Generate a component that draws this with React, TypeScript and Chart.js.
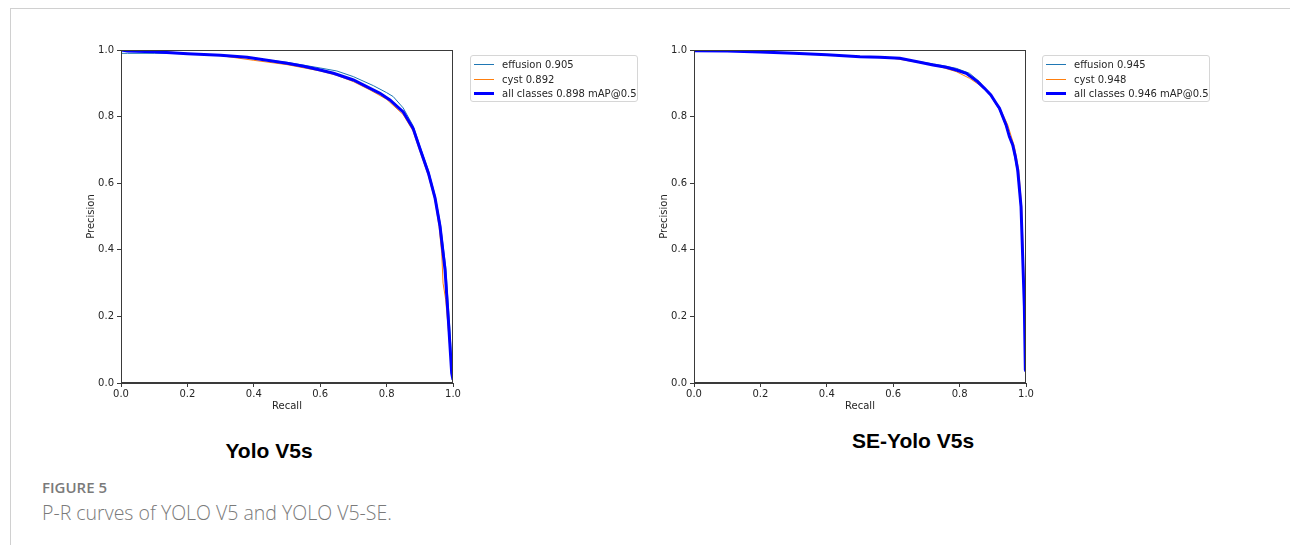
import React, { useEffect, useRef } from "react";
import { Chart, registerables } from "chart.js";

Chart.register(...registerables);

// ---------- data ----------
const tickValues = [0, 0.2, 0.4, 0.6, 0.8, 1.0];

// Yolo V5s
const yoloEffusionRecall = [0, 0.02, 0.1, 0.2, 0.3, 0.4, 0.5, 0.6, 0.65, 0.7, 0.76, 0.8, 0.82, 0.85, 0.88, 0.9, 0.926, 0.946, 0.962, 0.978, 0.99, 0.998, 1.0];
const yoloEffusionPrecision = [0.99, 0.99, 0.99, 0.989, 0.985, 0.975, 0.963, 0.946, 0.937, 0.92, 0.893, 0.872, 0.86, 0.826, 0.772, 0.712, 0.638, 0.563, 0.478, 0.35, 0.17, 0.03, 0.01];
const yoloCystRecall = [0, 0.1, 0.2, 0.3, 0.4, 0.5, 0.6, 0.65, 0.7, 0.75, 0.8, 0.85, 0.88, 0.9, 0.926, 0.946, 0.958, 0.966, 0.97, 0.978, 0.985, 0.995, 1.0];
const yoloCystPrecision = [1.0, 0.997, 0.99, 0.983, 0.969, 0.956, 0.937, 0.924, 0.905, 0.88, 0.852, 0.806, 0.756, 0.697, 0.622, 0.547, 0.47, 0.39, 0.3, 0.25, 0.17, 0.05, 0.01];
const yoloAllRecall = [0, 0.02, 0.1, 0.2, 0.3, 0.38, 0.45, 0.5, 0.55, 0.6, 0.64, 0.7, 0.74, 0.78, 0.81, 0.85, 0.88, 0.9, 0.926, 0.946, 0.961, 0.976, 0.986, 0.996, 1.0];
const yoloAllPrecision = [1.0, 0.997, 0.995, 0.989, 0.984, 0.978, 0.968, 0.96, 0.951, 0.94, 0.93, 0.91, 0.89, 0.87, 0.85, 0.814, 0.764, 0.705, 0.63, 0.555, 0.47, 0.34, 0.19, 0.03, 0.01];

// SE-Yolo V5s
const seEffusionRecall = [0, 0.1, 0.2, 0.3, 0.4, 0.5, 0.6, 0.68, 0.74, 0.79, 0.83, 0.86, 0.894, 0.92, 0.94, 0.96, 0.975, 0.985, 0.99, 0.995, 0.998, 1.0];
const seEffusionPrecision = [0.998, 0.997, 0.994, 0.99, 0.986, 0.98, 0.977, 0.965, 0.955, 0.945, 0.93, 0.905, 0.862, 0.82, 0.77, 0.71, 0.63, 0.52, 0.37, 0.22, 0.04, 0.03];
const seCystRecall = [0, 0.1, 0.2, 0.3, 0.4, 0.5, 0.6, 0.68, 0.74, 0.79, 0.83, 0.86, 0.894, 0.92, 0.945, 0.965, 0.978, 0.987, 0.992, 0.996, 0.999, 1.0];
const seCystPrecision = [0.998, 0.997, 0.994, 0.99, 0.986, 0.98, 0.975, 0.962, 0.95, 0.935, 0.915, 0.895, 0.865, 0.828, 0.775, 0.71, 0.64, 0.53, 0.38, 0.22, 0.04, 0.04];
const seAllRecall = [0, 0.1, 0.2, 0.3, 0.4, 0.5, 0.56, 0.62, 0.68, 0.72, 0.76, 0.79, 0.82, 0.854, 0.875, 0.894, 0.91, 0.92, 0.94, 0.95, 0.96, 0.968, 0.975, 0.985, 0.99, 0.995, 0.998, 1.0];
const seAllPrecision = [0.998, 0.997, 0.994, 0.99, 0.986, 0.98, 0.978, 0.975, 0.963, 0.955, 0.948, 0.94, 0.93, 0.905, 0.885, 0.865, 0.84, 0.825, 0.775, 0.74, 0.715, 0.68, 0.64, 0.53, 0.38, 0.23, 0.04, 0.035];

const yoloLegendLabels = ["effusion 0.905", "cyst 0.892", "all classes 0.898 mAP@0.5"];
const seLegendLabels = ["effusion 0.945", "cyst 0.948", "all classes 0.946 mAP@0.5"];
const chartTitles = ["Yolo V5s", "SE-Yolo V5s"];
const figureLabel = "FIGURE 5";
const figureCaption = "P-R curves of YOLO V5 and YOLO V5-SE.";

// ---------- styles ----------
const EFFUSION_COLOR = "#1f77b4";
const CYST_COLOR = "#ff7f0e";
const ALL_COLOR = "#0000ff";
const AXIS_COLOR = "#3a3a3a";
const TEXT_COLOR = "#262626";
const MPL_FONT = "'DejaVu Sans', sans-serif";

const pts = (xs: number[], ys: number[]) => xs.map((x, i) => ({ x, y: ys[i] }));

const boxPlugin = {
  id: "boxPlugin",
  afterDatasetsDraw(chart: any) {
    const { ctx, chartArea } = chart;
    ctx.save();
    ctx.strokeStyle = AXIS_COLOR;
    ctx.lineWidth = 1;
    ctx.strokeRect(
      Math.round(chartArea.left) + 0.5,
      Math.round(chartArea.top) + 0.5,
      Math.round(chartArea.right - chartArea.left) - 1,
      Math.round(chartArea.bottom - chartArea.top) - 1
    );
    ctx.restore();
  },
};

function PRChart(props: {
  left: number;
  effR: number[];
  effP: number[];
  cystR: number[];
  cystP: number[];
  allR: number[];
  allP: number[];
  labels: string[];
}) {
  const ref = useRef<HTMLCanvasElement | null>(null);
  useEffect(() => {
    if (!ref.current) return;
    const axisCommon = (title: string, isY: boolean) => ({
      type: "linear" as const,
      min: 0,
      max: 1,
      afterBuildTicks: (s: any) => {
        s.ticks = tickValues.map((v) => ({ value: v }));
      },
      ticks: {
        callback: (v: any) => Number(v).toFixed(1),
        font: { family: MPL_FONT, size: 10 },
        color: TEXT_COLOR,
        padding: isY ? 3 : 1,
        maxRotation: 0,
        autoSkip: false,
      },
      grid: {
        display: true,
        drawOnChartArea: false,
        drawTicks: true,
        tickLength: 4,
        tickColor: AXIS_COLOR,
        tickWidth: 1,
      },
      border: { display: true, color: AXIS_COLOR, width: 1 },
      title: {
        display: true,
        text: title,
        font: { family: MPL_FONT, size: 10 },
        color: TEXT_COLOR,
        padding: isY ? { top: 25, bottom: 0 } : { top: 0, bottom: 8 },
      },
    });
    const chart = new Chart(ref.current, {
      type: "line",
      data: {
        datasets: [
          {
            label: props.labels[0],
            data: pts(props.effR, props.effP),
            borderColor: EFFUSION_COLOR,
            borderWidth: 1,
            pointRadius: 0,
            tension: 0,
            fill: false,
            order: 2,
          },
          {
            label: props.labels[1],
            data: pts(props.cystR, props.cystP),
            borderColor: CYST_COLOR,
            borderWidth: 1,
            pointRadius: 0,
            tension: 0,
            fill: false,
            order: 1,
          },
          {
            label: props.labels[2],
            data: pts(props.allR, props.allP),
            borderColor: ALL_COLOR,
            borderWidth: 3,
            pointRadius: 0,
            tension: 0,
            fill: false,
            order: 0,
          },
        ],
      },
      options: {
        responsive: false,
        animation: false,
        devicePixelRatio: 1,
        layout: { padding: { left: 0, right: 27, top: 10, bottom: 0 } },
        plugins: { legend: { display: false }, tooltip: { enabled: false } },
        scales: {
          x: { ...axisCommon("Recall", false), afterFit: (s: any) => { s.height = 37; } },
          y: { ...axisCommon("Precision", true), afterFit: (s: any) => { s.width = 61; } },
        },
      } as any,
      plugins: [boxPlugin],
    });
    return () => chart.destroy();
  }, []);
  return (
    <canvas
      ref={ref}
      width={420}
      height={380}
      style={{ position: "absolute", left: props.left, top: 40, width: 420, height: 380 }}
    />
  );
}

function Legend(props: { left: number; labels: string[] }) {
  const colors = [EFFUSION_COLOR, CYST_COLOR, ALL_COLOR];
  const widths = [1, 1, 3];
  return (
    <div
      style={{
        position: "absolute",
        left: props.left,
        top: 55,
        width: 166,
        height: 45,
        border: "1px solid #d6d6d6",
        borderRadius: 3,
        background: "rgba(255,255,255,0.8)",
        fontFamily: MPL_FONT,
        fontSize: 10,
        color: TEXT_COLOR,
      }}
    >
      {props.labels.map((lab, i) => (
        <div key={i} style={{ position: "absolute", left: 0, top: 2 + i * 14.5, height: 13, width: "100%" }}>
          <div
            style={{
              position: "absolute",
              left: 3,
              top: 6.5 - widths[i] / 2,
              width: 20,
              height: widths[i],
              background: colors[i],
            }}
          />
          <div style={{ position: "absolute", left: 31, top: 0, lineHeight: "13px", whiteSpace: "nowrap" }}>{lab}</div>
        </div>
      ))}
    </div>
  );
}

export default function App() {
  return (
    <div
      style={{
        position: "absolute",
        left: 0,
        top: 0,
        width: 1290,
        height: 545,
        background: "#ffffff",
        overflow: "hidden",
      }}
    >
      <div
        style={{
          position: "absolute",
          left: 10,
          top: 8,
          width: 1290,
          height: 600,
          borderTop: "1px solid #d0d0d0",
          borderLeft: "1px solid #d0d0d0",
        }}
      />
      <PRChart
        left={60}
        effR={yoloEffusionRecall}
        effP={yoloEffusionPrecision}
        cystR={yoloCystRecall}
        cystP={yoloCystPrecision}
        allR={yoloAllRecall}
        allP={yoloAllPrecision}
        labels={yoloLegendLabels}
      />
      <PRChart
        left={633}
        effR={seEffusionRecall}
        effP={seEffusionPrecision}
        cystR={seCystRecall}
        cystP={seCystPrecision}
        allR={seAllRecall}
        allP={seAllPrecision}
        labels={seLegendLabels}
      />
      <Legend left={470} labels={yoloLegendLabels} />
      <Legend left={1042} labels={seLegendLabels} />
      <div
        style={{
          position: "absolute",
          left: 169,
          width: 200,
          top: 440,
          textAlign: "center",
          fontFamily: "'Liberation Sans', Arial, sans-serif",
          fontWeight: 700,
          fontSize: 21,
          lineHeight: "21px",
          color: "#000",
        }}
      >
        {chartTitles[0]}
      </div>
      <div
        style={{
          position: "absolute",
          left: 813,
          width: 200,
          top: 430,
          textAlign: "center",
          fontFamily: "'Liberation Sans', Arial, sans-serif",
          fontWeight: 700,
          fontSize: 21,
          lineHeight: "21px",
          color: "#000",
        }}
      >
        {chartTitles[1]}
      </div>
      <div
        style={{
          position: "absolute",
          left: 42,
          top: 479,
          fontFamily: "'Open Sans', sans-serif",
          fontWeight: 600,
          fontSize: 15,
          lineHeight: "17px",
          color: "#7a7a7a",
        }}
      >
        {figureLabel}
      </div>
      <div
        style={{
          position: "absolute",
          left: 42,
          top: 501,
          fontFamily: "'Open Sans', sans-serif",
          fontWeight: 300,
          fontSize: 19.5,
          lineHeight: "24px",
          color: "#7a7a7a",
          whiteSpace: "nowrap",
        }}
      >
        {figureCaption}
      </div>
    </div>
  );
}
